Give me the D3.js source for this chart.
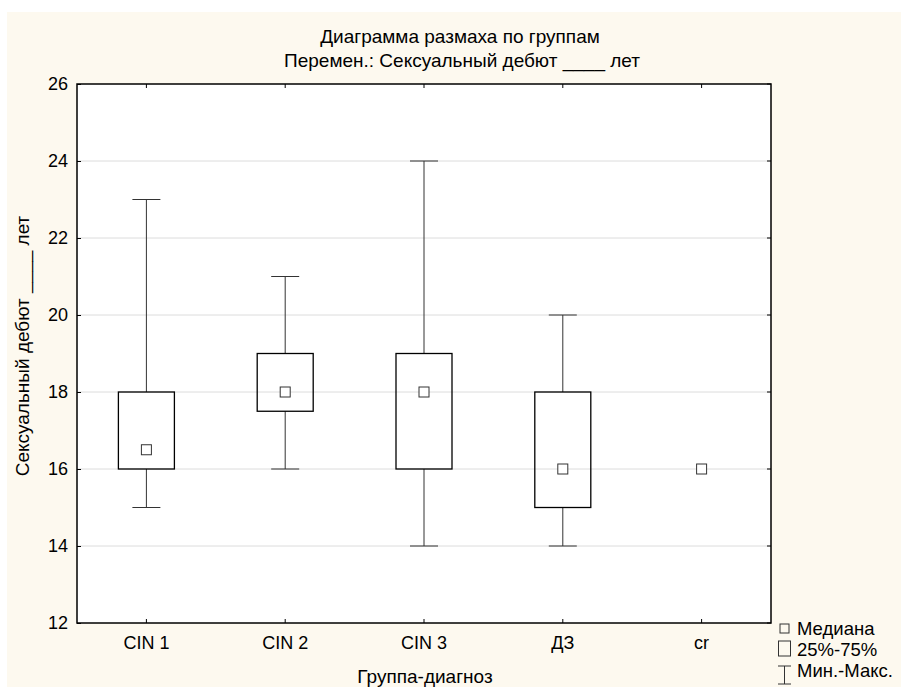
<!DOCTYPE html>
<html>
<head>
<meta charset="utf-8">
<script src="https://cdn.jsdelivr.net/npm/d3@7"></script>
<style>
  body { margin: 0; background: #fff; }
  text { font-family: "Liberation Sans", Arial, sans-serif; fill: #000; }
</style>
</head>
<body>
<div id="chart"></div>
<script>
// groups and their box values
var groups = ["CIN 1", "CIN 2", "CIN 3", "ДЗ", "cr"];
var mins    = [15, 16, 14, 14, 16];
var q1s     = [16, 17.5, 16, 15, 16];
var medians = [16.5, 18, 18, 16, 16];
var q3s     = [18, 19, 19, 18, 16];
var maxs    = [23, 21, 24, 20, 16];
var yTicks  = [12, 14, 16, 18, 20, 22, 24, 26];
var legendLabels = ["Медиана", "25%-75%", "Мин.-Макс."];

var totalWidth = 901, totalHeight = 687;
var margin = {left: 77, right: 130, top: 84, bottom: 64};

var data = groups.map(function(g, i) {
  return {group: g, min: mins[i], q1: q1s[i], median: medians[i], q3: q3s[i], max: maxs[i]};
});

var svg = d3.select("#chart").append("svg")
    .attr("width", totalWidth)
    .attr("height", totalHeight);

// cream background
svg.append("rect")
    .attr("x", 7).attr("y", 12)
    .attr("width", totalWidth - 7).attr("height", totalHeight - 12)
    .attr("fill", "#fdf9ef");

var xScale = d3.scaleBand()
    .domain(groups)
    .range([margin.left, totalWidth - margin.right])
    .padding(0);

var yScale = d3.scaleLinear()
    .domain([12, 26])
    .range([totalHeight - margin.bottom, margin.top]);

var plotLeft = margin.left, plotRight = totalWidth - margin.right;
var plotTop = margin.top, plotBottom = totalHeight - margin.bottom;

// plot area
svg.append("rect")
    .attr("x", plotLeft).attr("y", plotTop)
    .attr("width", plotRight - plotLeft).attr("height", plotBottom - plotTop)
    .attr("fill", "#fff");

// gridlines
svg.selectAll(".grid")
    .data(yTicks.filter(function(d) { return d > 12 && d < 26; }))
    .enter().append("line")
    .attr("x1", plotLeft).attr("x2", plotRight)
    .attr("y1", function(d) { return yScale(d); })
    .attr("y2", function(d) { return yScale(d); })
    .attr("stroke", "#dcdcdc")
    .attr("stroke-width", 1);

// left axis, ticks inside
var yAxis = d3.axisLeft(yScale).tickValues(yTicks).tickSize(0).tickPadding(9);
var gy = svg.append("g")
    .attr("transform", "translate(" + plotLeft + ",0)")
    .call(yAxis);
gy.select(".domain").remove();
gy.selectAll("text").style("font-size", "18px");
gy.selectAll(".tick").append("line")
    .attr("x1", 0).attr("x2", 4).attr("stroke", "#000");

// right axis ticks inside
svg.selectAll(".rtick")
    .data(yTicks)
    .enter().append("line")
    .attr("x1", plotRight - 4).attr("x2", plotRight)
    .attr("y1", function(d) { return yScale(d); })
    .attr("y2", function(d) { return yScale(d); })
    .attr("stroke", "#000");

// bottom axis
var xAxis = d3.axisBottom(xScale).tickSize(0).tickPadding(13);
var gx = svg.append("g")
    .attr("transform", "translate(0," + plotBottom + ")")
    .call(xAxis);
gx.select(".domain").remove();
gx.selectAll("text").style("font-size", "18px");
gx.selectAll(".tick").append("line")
    .attr("y1", 0).attr("y2", -4).attr("stroke", "#000");

// top ticks
svg.selectAll(".ttick")
    .data(groups)
    .enter().append("line")
    .attr("x1", function(d) { return xScale(d) + xScale.bandwidth() / 2; })
    .attr("x2", function(d) { return xScale(d) + xScale.bandwidth() / 2; })
    .attr("y1", plotTop).attr("y2", plotTop + 4)
    .attr("stroke", "#000");

// frame
svg.append("rect")
    .attr("x", plotLeft).attr("y", plotTop)
    .attr("width", plotRight - plotLeft).attr("height", plotBottom - plotTop)
    .attr("fill", "none")
    .attr("stroke", "#000")
    .attr("stroke-width", 1.5);

// boxes
var boxW = 56, capW = 28, medW = 10;
var box = svg.selectAll(".box")
    .data(data)
    .enter().append("g")
    .attr("transform", function(d) { return "translate(" + (xScale(d.group) + xScale.bandwidth() / 2) + ",0)"; });

box.filter(function(d) { return d.max > d.min; }).each(function(d) {
  var g = d3.select(this);
  g.append("line").attr("x1", 0).attr("x2", 0)
      .attr("y1", yScale(d.max)).attr("y2", yScale(d.q3)).attr("stroke", "#333");
  g.append("line").attr("x1", 0).attr("x2", 0)
      .attr("y1", yScale(d.q1)).attr("y2", yScale(d.min)).attr("stroke", "#333");
  g.append("line").attr("x1", -capW / 2).attr("x2", capW / 2)
      .attr("y1", yScale(d.max)).attr("y2", yScale(d.max)).attr("stroke", "#333");
  g.append("line").attr("x1", -capW / 2).attr("x2", capW / 2)
      .attr("y1", yScale(d.min)).attr("y2", yScale(d.min)).attr("stroke", "#333");
  g.append("rect")
      .attr("x", -boxW / 2).attr("width", boxW)
      .attr("y", yScale(d.q3)).attr("height", yScale(d.q1) - yScale(d.q3))
      .attr("fill", "none").attr("stroke", "#000").attr("stroke-width", 1.3);
});

box.append("rect")
    .attr("x", -medW / 2).attr("width", medW)
    .attr("y", function(d) { return yScale(d.median) - medW / 2; })
    .attr("height", medW)
    .attr("fill", "#fff").attr("stroke", "#333");

// titles
svg.append("text")
    .attr("x", 460).attr("y", 43)
    .attr("text-anchor", "middle")
    .style("font-size", "19px")
    .text("Диаграмма размаха по группам");
svg.append("text")
    .attr("x", 462).attr("y", 67)
    .attr("text-anchor", "middle")
    .style("font-size", "19px")
    .text("Перемен.: Сексуальный дебют ____ лет");

// axis labels
svg.append("text")
    .attr("x", 425).attr("y", 683)
    .attr("text-anchor", "middle")
    .style("font-size", "19px")
    .text("Группа-диагноз");
svg.append("text")
    .attr("text-anchor", "middle")
    .attr("transform", "translate(" + [29, 346] + ") rotate(-90)")
    .style("font-size", "19px")
    .text("Сексуальный дебют ____ лет");

// legend
var lg = svg.append("g").attr("transform", "translate(778,620)");
lg.append("rect").attr("x", 2).attr("y", 4).attr("width", 9).attr("height", 9)
    .attr("fill", "none").attr("stroke", "#333");
lg.append("rect").attr("x", 0.5).attr("y", 21).attr("width", 12).attr("height", 15)
    .attr("fill", "none").attr("stroke", "#333");
lg.append("line").attr("x1", 6.5).attr("x2", 6.5).attr("y1", 46).attr("y2", 64).attr("stroke", "#333");
lg.append("line").attr("x1", 0).attr("x2", 13).attr("y1", 46).attr("y2", 46).attr("stroke", "#333");
lg.append("line").attr("x1", 0).attr("x2", 13).attr("y1", 64).attr("y2", 64).attr("stroke", "#333");
lg.selectAll(".ltext")
    .data(legendLabels)
    .enter().append("text")
    .attr("x", 19)
    .attr("y", function(d, i) { return 15 + i * 21; })
    .style("font-size", "18.5px")
    .text(function(d) { return d; });
</script>
</body>
</html>
